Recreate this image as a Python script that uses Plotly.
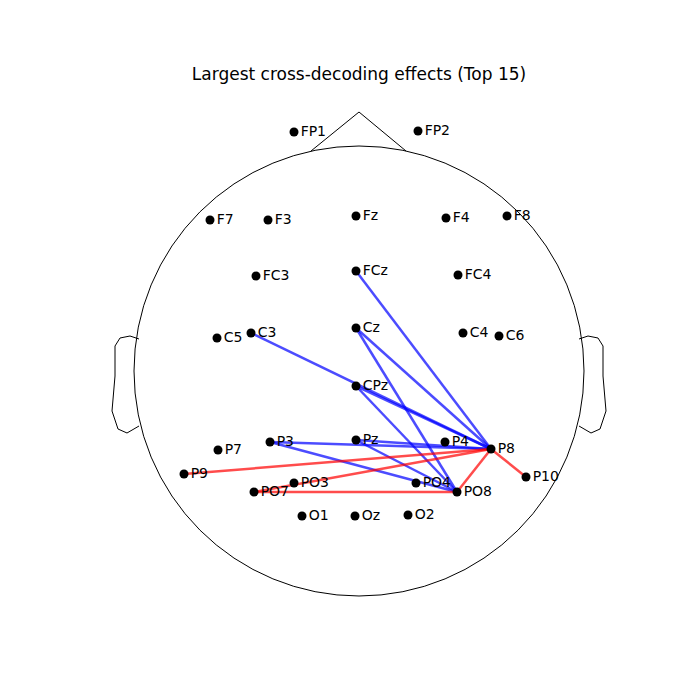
import plotly.graph_objects as go

names = ["FP1","FP2","F7","F3","Fz","F4","F8","FC3","FCz","FC4","C5","C3","Cz","C4","C6","CPz",
         "P7","P3","Pz","P4","P8","P9","P10","PO7","PO3","PO4","PO8","O1","Oz","O2"]
xs = [294,418,210,268,356,446,507,256,356,458,217,251,356,463,499,356,
      218,270,356,445,491,184,526,254,294,416,457,302,355,408]
ys = [131,130,219,219,215,217,215,275,270,274,337,332,327,332,335,385,
      449,441,439,441,448,473,476,491,482,482,491,515,515,514]
pos = {n: (x, y) for n, x, y in zip(names, xs, ys)}

blue_pairs = [("FCz","P8"),("Cz","P8"),("Cz","PO8"),("C3","P8"),("CPz","P8"),("CPz","PO8"),
              ("P3","P8"),("Pz","P8"),("P3","PO8"),("Pz","PO8")]
red_pairs = [("P9","P8"),("PO7","P8"),("PO7","PO8"),("PO8","P8"),("P8","P10")]

fig = go.Figure()
cx, cy, r = 359, 370, 225
shapes = [dict(type="circle", x0=cx-r, x1=cx+r, y0=cy-r, y1=cy+r, line=dict(color="black", width=1))]
shapes.append(dict(type="path", path="M 311 150 L 359 111 L 406 150", line=dict(color="black", width=1)))
ear = [(139,338),(130,335),(120,337),(115,345),(115,375),(112,410),(118,428),(127,432),(139,425)]
for side in (1, -1):
    pts = [(x if side == 1 else 718 - x, y) for x, y in ear]
    path = "M " + " L ".join(f"{x} {y}" for x, y in pts)
    shapes.append(dict(type="path", path=path, line=dict(color="black", width=1)))

for pairs, col in ((blue_pairs, "rgba(0,0,255,0.7)"), (red_pairs, "rgba(255,0,0,0.7)")):
    for a, b in pairs:
        fig.add_trace(go.Scatter(x=[pos[a][0], pos[b][0]], y=[pos[a][1], pos[b][1]], mode="lines",
                                 line=dict(color=col, width=2.5), hoverinfo="skip"))

fig.add_trace(go.Scatter(x=xs, y=ys, mode="markers+text", text=names, textposition="middle right",
                         marker=dict(color="black", size=9),
                         textfont=dict(family="DejaVu Sans", size=14, color="black")))

fig.update_layout(width=700, height=700, margin=dict(l=0, r=0, t=0, b=0), showlegend=False,
                  plot_bgcolor="white", paper_bgcolor="white", shapes=shapes,
                  title=dict(text="Largest cross-decoding effects (Top 15)", x=(359-8)/700, y=1-66/700,
                             xanchor="center", yanchor="middle",
                             font=dict(family="DejaVu Sans", size=17, color="black")))
fig.update_xaxes(range=[8, 708], visible=False)
fig.update_yaxes(range=[707, 7], visible=False)
fig.write_html("out.html")
